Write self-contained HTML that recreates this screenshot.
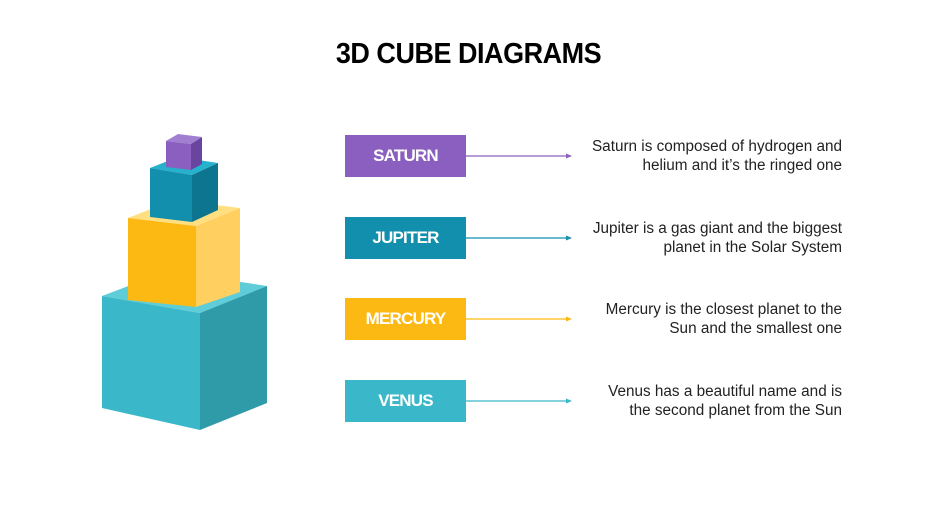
<!DOCTYPE html>
<html><head><style>
body{margin:0;width:937px;height:527px;background:#fff;position:relative;overflow:hidden;font-family:"Liberation Sans",sans-serif;}
h1{position:absolute;top:38px;left:0;width:937px;text-align:center;margin:0;font-size:29px;font-weight:bold;letter-spacing:-0.5px;color:#000;transform:scaleX(0.93);}
.lab{position:absolute;left:345px;width:121px;height:42px;color:#fff;font-weight:bold;font-size:17px;line-height:42px;text-align:center;letter-spacing:-0.8px;}
.d{position:absolute;right:95px;width:320px;text-align:right;font-size:15.3px;line-height:19px;color:#222;}
</style></head><body>
<h1>3D CUBE DIAGRAMS</h1>
<svg width="937" height="527" style="position:absolute;left:0;top:0">
<polygon points="102,296 200,313 267,286 168,271" fill="#5fcdd8"/>
<polygon points="102,296 200,313 200,430 102,408" fill="#3ab8c9"/>
<polygon points="200,313 267,286 267,403 200,430" fill="#2f9aa8"/>
<polygon points="128,218 196,226 240,208 174,200" fill="#ffdf80"/>
<polygon points="128,218 196,226 196,307 128,300" fill="#fdb913"/>
<polygon points="196,226 240,208 240,292 196,307" fill="#ffd060"/>
<polygon points="150,168 192,175 218,163 178,157" fill="#26b2cc"/>
<polygon points="150,168 192,175 192,222 150,217" fill="#128fad"/>
<polygon points="192,175 218,163 218,210 192,222" fill="#0d7590"/>
<polygon points="166,141 191,144 202,137 178,134" fill="#a07fd0"/>
<polygon points="166,141 191,144 191,170 166,167" fill="#8a5fbf"/>
<polygon points="191,144 202,137 202,164 191,170" fill="#6a45a0"/>
<g stroke-width="1.2">
<line x1="466" y1="156" x2="568" y2="156" stroke="#8a5fbf"/><polygon points="572,156 566,153.5 566,158.5" fill="#8a5fbf"/>
<line x1="466" y1="238" x2="568" y2="238" stroke="#128fad"/><polygon points="572,238 566,235.5 566,240.5" fill="#128fad"/>
<line x1="466" y1="319" x2="568" y2="319" stroke="#fdb913"/><polygon points="572,319 566,316.5 566,321.5" fill="#fdb913"/>
<line x1="466" y1="401" x2="568" y2="401" stroke="#3ab8c9"/><polygon points="572,401 566,398.5 566,403.5" fill="#3ab8c9"/>
</g>
</svg>
<div class="lab" style="top:135px;background:#8a5fbf">SATURN</div>
<div class="lab" style="top:217px;background:#128fad">JUPITER</div>
<div class="lab" style="top:298px;background:#fdb913">MERCURY</div>
<div class="lab" style="top:380px;background:#3ab8c9">VENUS</div>
<div class="d" style="top:137px">Saturn is composed of hydrogen and<br>helium and it’s the ringed one</div>
<div class="d" style="top:219px">Jupiter is a gas giant and the biggest<br>planet in the Solar System</div>
<div class="d" style="top:300px">Mercury is the closest planet to the<br>Sun and the smallest one</div>
<div class="d" style="top:382px">Venus has a beautiful name and is<br>the second planet from the Sun</div>
</body></html>
